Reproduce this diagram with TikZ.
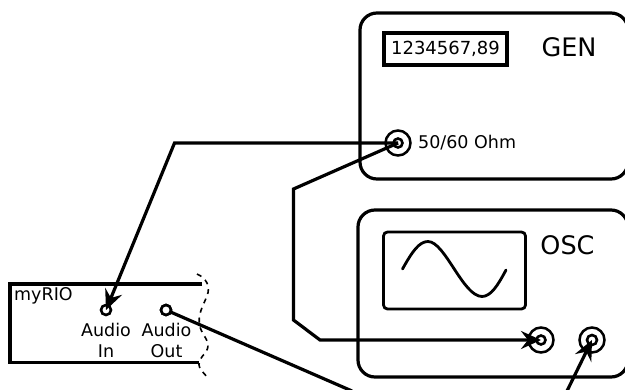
\documentclass[tikz,border=0pt]{standalone}
\usepackage{fontspec}
\setmainfont{DejaVu Sans}
\usetikzlibrary{arrows.meta}
\tikzset{
  box/.style={draw=black,line width=3.2pt,rounded corners=17pt,inner sep=0pt},
  panel/.style={draw=black,line width=2.8pt,rounded corners=4pt},
  jack/.style={circle,draw=black,line width=2.5pt,minimum size=25pt,inner sep=0pt},
  pin/.style={circle,draw=black,line width=2.6pt,minimum size=10pt,inner sep=0pt},
  wire/.style={draw=black,line width=3.2pt,line join=miter},
  tip/.style={-{Stealth[length=20pt,width=18pt,inset=7pt]}},
  lab/.style={inner sep=0pt,font=\fontsize{17.5}{21}\selectfont,align=center},
  big/.style={inner sep=0pt,font=\fontsize{25.5}{30}\selectfont}
}
\begin{document}
\begin{tikzpicture}[x=1pt,y=-1pt]
\useasboundingbox (0,0) rectangle (625,389);
\clip (0,0) rectangle (625,389);
% generator
\draw[box] (360,13) rectangle (628,179);
\draw[black,line width=3.2pt] (384,33) rectangle (507,65);
\node[lab,font=\fontsize{18}{21}\selectfont] (disp) at (445.5,49) {1234567,89};
\node[big] (gen) at (569,47.5) {GEN};
\node[jack] (gj) at (398,143) {};
\node[pin,minimum size=9pt] (gp) at (398,143) {};
\node[lab,anchor=west] (ohm) at (418,143) {50/60 Ohm};
% oscilloscope
\draw[box] (358,210) rectangle (628,377);
\draw[panel] (383.5,232) rectangle (525.5,309);
\draw[black,line width=2.8pt,line cap=round] (402.5,269) .. controls (412,252) and (419,241.5) .. (428,241.5)
  .. controls (445,241.5) and (463,296.5) .. (482,296.5)
  .. controls (491,296.5) and (498,285) .. (506,270);
\node[big] (osc) at (567.5,245.5) {OSC};
\node[jack] (oa) at (541,340) {};
\node[pin,minimum size=9pt] (oap) at (541,340) {};
\node[jack] (ob) at (592,340) {};
\node[pin] (obp) at (592,340) {};
% myRIO
\coordinate (rt) at (202,284);
\coordinate (rb) at (199,362.5);
\draw[black,line width=3.4pt] (rt) -- (10,284) -- (10,362.5) -- (rb);
\draw[black,line width=1.6pt,dash pattern=on 5pt off 5pt]
  (197,274) .. controls (206,278) and (211,286) .. (207,296)
  .. controls (203,306) and (197,315) .. (200,327)
  .. controls (203,337) and (212,342) .. (206,352)
  .. controls (201,358) and (196,362) .. (201,370)
  -- (208,378);
\node[lab,anchor=west] (rio) at (14,295.5) {myRIO};
\node[pin] (ain) at (106,310) {};
\node[pin] (aout) at (166,310) {};
\node[lab,anchor=north] (ainl) at (106,323) {Audio\\In};
\node[lab,anchor=north] (aoutl) at (166.5,323) {Audio\\Out};
% wires
\coordinate (w1) at (174.5,143);
\coordinate (w2) at (293.5,189);
\coordinate (w3) at (293.5,320);
\coordinate (w4) at (320,340);
\coordinate (w5) at (352,391);
\coordinate (w6) at (567,391);
\draw[wire,tip] (gp.center) -- (w1) -- (ain.center);
\draw[wire,tip] (gp.center) -- (w2) -- (w3) -- (w4) -- (oap.center);
\draw[wire] (aout.center) -- (w5);
\draw[wire,tip] (w6) -- (obp.center);
\node[pin,fill=white] at (aout) {};
\end{tikzpicture}
\end{document}
